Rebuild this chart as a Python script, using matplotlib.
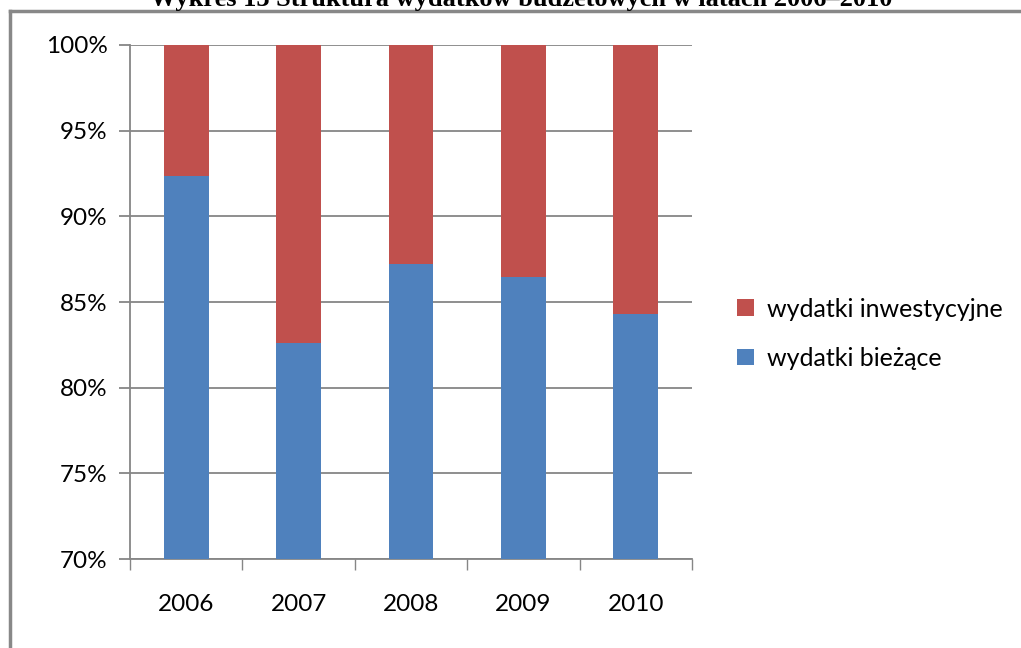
import matplotlib
matplotlib.use('Agg')
import matplotlib.pyplot as plt
from matplotlib.lines import Line2D
from matplotlib.ticker import FuncFormatter
import numpy as np

years = ['2006', '2007', '2008', '2009', '2010']
biezace = [92.37, 82.6, 87.2, 86.44, 84.3]          # % share
inwestycyjne = [100 - v for v in biezace]
labels = ['wydatki bieżące', 'wydatki inwestycyjne']
title = 'Wykres 13 Struktura wydatków budżetowych w latach 2006–2010'

blue = '#4F81BD'
red = '#C0504D'
grid_gray = '#868686'
font = 'Lato'

fig = plt.figure(figsize=(10.21, 6.48), dpi=100)
ax = fig.add_axes([0.1273, 0.1373, 0.5505, 0.7933])

x = np.arange(len(years))
bw = 0.40
b1 = ax.bar(x, biezace, bw, color=blue, zorder=3, label=labels[0])
b2 = ax.bar(x, inwestycyjne, bw, bottom=biezace, color=red, zorder=3, label=labels[1])

ax.set_xlim(-0.5, len(years) - 0.5)
ax.set_ylim(70, 100)
ax.set_yticks(np.arange(70, 101, 5))
ax.yaxis.set_major_formatter(FuncFormatter(lambda v, p: f'{v:.0f}%'))
ax.grid(axis='y', color=grid_gray, linewidth=1.3, zorder=0)

ax.set_xticks(x)
ax.set_xticklabels(years)
ax.set_xticks(np.arange(-0.5, len(years)), minor=True)
ax.tick_params(axis='x', which='major', length=0, pad=25, labelsize=17.5)
ax.tick_params(axis='x', which='minor', length=8, color=grid_gray, width=1)
ax.tick_params(axis='y', length=8, color=grid_gray, width=1.3, pad=8, labelsize=17.5)
for t in ax.get_xticklabels() + ax.get_yticklabels():
    t.set_fontfamily(font)

for s in ['top', 'right']:
    ax.spines[s].set_visible(False)
for s in ['left', 'bottom']:
    ax.spines[s].set_color(grid_gray)
    ax.spines[s].set_linewidth(1.3)

handles = [b2, b1]
leg = fig.legend(handles, [labels[1], labels[0]], loc='center left',
                 bbox_to_anchor=(0.705, 0.485), frameon=False,
                 prop={'family': font, 'size': 18}, handlelength=0.65,
                 handleheight=0.65, handletextpad=0.55, labelspacing=1.05,
                 borderpad=0.2)

# clipped title at the very top and the page frame
fig.text(0.51, 1 - 6 / 648, title, ha='center', va='baseline',
         fontfamily='Liberation Serif', fontweight='bold', fontsize=19)
fig.add_artist(Line2D([10 / 1021, 10 / 1021], [0, 1 - 11 / 648],
                      transform=fig.transFigure, color='#888888', linewidth=2.5))
fig.add_artist(Line2D([10 / 1021, 1], [1 - 11 / 648, 1 - 11 / 648],
                      transform=fig.transFigure, color='#888888', linewidth=2.5))

fig.savefig('out.png', dpi=100)
